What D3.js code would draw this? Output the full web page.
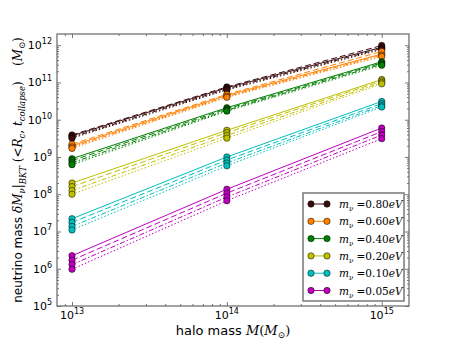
<!DOCTYPE html>
<html lang="en">
<head>
<meta charset="utf-8">
<title>neutrino mass vs halo mass</title>
<script src="https://cdn.jsdelivr.net/npm/d3@7"></script>
<style>
  body { margin: 0; background: #fff; }
  text { font-family: "DejaVu Sans", sans-serif; fill: #000; }
  .math { font-family: "DejaVu Serif", serif; font-style: italic; }
</style>
</head>
<body>
<svg id="chart" width="455" height="341"></svg>
<script>

// halo masses (x)
var haloMass = [1e13, 1e14, 1e15];

// neutrino masses (legend)
var nuLabels = ["0.80", "0.60", "0.40", "0.20", "0.10", "0.05"];
var nuColors = ["#3b0c10", "#ff7f00", "#008000", "#bfbf00", "#00bfbf", "#bf00bf"];

// four variants per neutrino mass: solid, dashed, dash-dot, dotted
var dashes = [null, "6,3", "5,2,1.5,2", "1.5,2"];

var m080 = [[3.7e9, 7.2e10, 8.8e11], [3.9e9, 7.6e10, 9.8e11], [3.4e9, 6.7e10, 8.2e11], [3.2e9, 6.3e10, 7.7e11]];
var m060 = [[2.0e9, 4.5e10, 5.8e11], [2.2e9, 4.8e10, 6.8e11], [1.85e9, 4.2e10, 5.4e11], [1.7e9, 4.0e10, 5.0e11]];
var m040 = [[9.0e8, 2.1e10, 3.6e11], [8.0e8, 1.95e10, 3.35e11], [7.0e8, 1.8e10, 3.1e11], [6.2e8, 1.7e10, 2.9e11]];
var m020 = [[2.0e8, 5.2e9, 1.2e11], [1.6e8, 4.5e9, 1.1e11], [1.25e8, 3.8e9, 1.0e11], [1.0e8, 3.2e9, 9.2e10]];
var m010 = [[2.2e7, 1.0e9, 3.1e10], [1.75e7, 8.3e8, 2.7e10], [1.37e7, 6.9e8, 2.4e10], [1.1e7, 5.8e8, 2.2e10]];
var m005 = [[2.24e6, 1.36e8, 6.0e9], [1.7e6, 1.07e8, 4.8e9], [1.29e6, 8.4e7, 3.9e9], [9.7e5, 6.7e7, 3.1e9]];

var allSeries = [m080, m060, m040, m020, m010, m005];

var xTicks = [1e13, 1e14, 1e15];
var xTickExp = ["13", "14", "15"];
var yTicks = [1e5, 1e6, 1e7, 1e8, 1e9, 1e10, 1e11, 1e12];
var yTickExp = ["5", "6", "7", "8", "9", "10", "11", "12"];

var svg = d3.select("svg#chart");
var pL = 57, pR = 409, pT = 34, pB = 306;

var x = d3.scaleLog().domain([8e12, 1.5e15]).range([pL, pR]);
var y = d3.scaleLog().domain([1e5, 2e12]).range([pB, pT]);

// minor ticks
function minors(lo, hi, dom) {
  var out = [];
  for (var e = lo; e <= hi; e++)
    for (var k = 2; k <= 9; k++) {
      var v = k * Math.pow(10, e);
      if (v > dom[0] && v < dom[1]) out.push(v);
    }
  return out;
}
var xMinor = minors(12, 15, x.domain());
var yMinor = minors(5, 12, y.domain());

var g = svg.append("g");

function tickAxis(axis, scale, vals, size, tr) {
  var a = axis(scale).tickValues(vals).tickSize(size).tickFormat("");
  var sel = g.append("g").attr("transform", tr).call(a);
  sel.select(".domain").remove();
  sel.selectAll("text").remove();
  sel.selectAll("line").attr("stroke", "#555").attr("stroke-width", 0.8);
}
tickAxis(d3.axisBottom, x, xTicks, -4, "translate(0," + pB + ")");
tickAxis(d3.axisBottom, x, xMinor, -2, "translate(0," + pB + ")");
tickAxis(d3.axisTop, x, xTicks, -4, "translate(0," + pT + ")");
tickAxis(d3.axisTop, x, xMinor, -2, "translate(0," + pT + ")");
tickAxis(d3.axisLeft, y, yTicks, -4, "translate(" + pL + ",0)");
tickAxis(d3.axisLeft, y, yMinor, -2, "translate(" + pL + ",0)");
tickAxis(d3.axisRight, y, yTicks, -4, "translate(" + pR + ",0)");
tickAxis(d3.axisRight, y, yMinor, -2, "translate(" + pR + ",0)");

// tick labels
xTicks.forEach(function(v, i) {
  var t = g.append("text").attr("x", x(v)).attr("y", pB + 13)
    .attr("text-anchor", "middle").style("font-size", "11px");
  t.append("tspan").text("10");
  t.append("tspan").attr("dy", -5).style("font-size", "8px").text(xTickExp[i]);
});
yTicks.forEach(function(v, i) {
  var t = g.append("text").attr("x", pL - 5).attr("y", y(v) + 4)
    .attr("text-anchor", "end").style("font-size", "11px");
  t.append("tspan").text("10");
  t.append("tspan").attr("dy", -5).style("font-size", "8px").text(yTickExp[i]);
});

// lines
var line = d3.line()
  .x(function(d, i) { return x(haloMass[i]); })
  .y(function(d) { return y(d); });

allSeries.forEach(function(set, c) {
  set.forEach(function(vals, k) {
    g.append("path").datum(vals)
      .attr("d", line)
      .attr("fill", "none")
      .attr("stroke", nuColors[c])
      .attr("stroke-width", 1)
      .attr("stroke-dasharray", dashes[k]);
  });
});
allSeries.forEach(function(set, c) {
  set.forEach(function(vals) {
    g.selectAll(null).data(vals).enter().append("circle")
      .attr("cx", function(d, i) { return x(haloMass[i]); })
      .attr("cy", function(d) { return y(d); })
      .attr("r", 3.2)
      .attr("fill", nuColors[c])
      .attr("stroke", "#000")
      .attr("stroke-width", 0.5);
  });
});

// frame
g.append("rect").attr("x", pL).attr("y", pT)
  .attr("width", pR - pL).attr("height", pB - pT)
  .attr("fill", "none").attr("stroke", "#666").attr("stroke-width", 1.2);

// legend
var lg = g.append("g");
lg.append("rect").attr("x", 303).attr("y", 193).attr("width", 101).attr("height", 108)
  .attr("fill", "#fff").attr("stroke", "#777").attr("stroke-width", 1.5);
nuLabels.forEach(function(lab, i) {
  var yy = 204 + i * 17.3;
  lg.append("line").attr("x1", 311).attr("x2", 327).attr("y1", yy).attr("y2", yy)
    .attr("stroke", nuColors[i]).attr("stroke-width", 1);
  [311, 327].forEach(function(cx) {
    lg.append("circle").attr("cx", cx).attr("cy", yy).attr("r", 3.2)
      .attr("fill", nuColors[i]).attr("stroke", "#000").attr("stroke-width", 0.5);
  });
  var t = lg.append("text").attr("x", 339).attr("y", yy + 4).attr("class", "math")
    .style("font-size", "10.5px");
  t.append("tspan").text("m");
  t.append("tspan").attr("dy", 3).style("font-size", "7px").text("ν");
  t.append("tspan").attr("dy", -3).style("font-style", "normal").text(" =" + lab);
  t.append("tspan").text("eV");
});

// x label
var xl = g.append("text").attr("x", 233).attr("y", 335).attr("text-anchor", "middle")
  .style("font-size", "13px");
xl.append("tspan").text("halo mass ");
xl.append("tspan").attr("class", "math").text("M");
xl.append("tspan").style("font-family", "DejaVu Serif").text("(");
xl.append("tspan").attr("class", "math").text("M");
xl.append("tspan").attr("dy", 3).style("font-size", "9px").style("font-family", "DejaVu Serif").text("⊙");
xl.append("tspan").attr("dy", -3).style("font-family", "DejaVu Serif").text(")");

// y label
var yl = g.append("text").attr("transform", "translate(22,170) rotate(-90)")
  .attr("text-anchor", "middle").style("font-size", "12px");
yl.append("tspan").text("neutrino mass ");
yl.append("tspan").attr("class", "math").text("δM");
yl.append("tspan").attr("class", "math").attr("dy", 3).style("font-size", "8.5px").text("ν");
yl.append("tspan").attr("dy", -3).style("font-family", "DejaVu Serif").text("|");
yl.append("tspan").attr("class", "math").attr("dy", 4).style("font-size", "8.5px").text("BKT");
yl.append("tspan").attr("dy", -4).style("font-family", "DejaVu Serif").text(" (<");
yl.append("tspan").attr("class", "math").text("R");
yl.append("tspan").attr("class", "math").attr("dy", 3).style("font-size", "8.5px").text("c");
yl.append("tspan").attr("dy", -3).style("font-family", "DejaVu Serif").text(", ");
yl.append("tspan").attr("class", "math").text("t");
yl.append("tspan").attr("class", "math").attr("dy", 3).style("font-size", "8.5px").text("collapse");
yl.append("tspan").attr("dy", -3).style("font-family", "DejaVu Serif").text(")\u00a0\u00a0\u00a0\u00a0(");
yl.append("tspan").attr("class", "math").text("M");
yl.append("tspan").attr("dy", 3).style("font-size", "8.5px").style("font-family", "DejaVu Serif").text("⊙");
yl.append("tspan").attr("dy", -3).style("font-family", "DejaVu Serif").text(")");

</script>
</body>
</html>
